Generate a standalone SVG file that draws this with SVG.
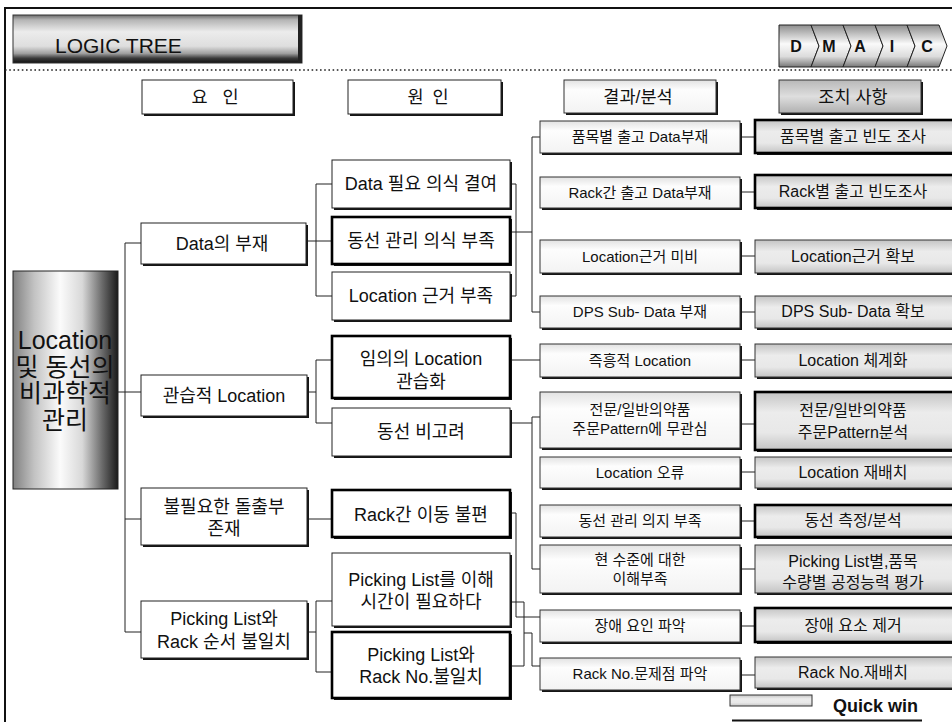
<svg xmlns="http://www.w3.org/2000/svg" width="952" height="722" viewBox="0 0 952 722">
<defs>
<linearGradient id="rootG" x1="0" y1="0" x2="1" y2="0">
<stop offset="0" stop-color="#808080"/><stop offset="0.2" stop-color="#c2c2c2"/><stop offset="0.45" stop-color="#fbfbfb"/><stop offset="0.66" stop-color="#d8d8d8"/><stop offset="0.85" stop-color="#6a6a6a"/><stop offset="1" stop-color="#1a1a1a"/>
</linearGradient>
<linearGradient id="banG" x1="0" y1="0" x2="0" y2="1">
<stop offset="0" stop-color="#6a6a6a"/><stop offset="0.1" stop-color="#b4b4b4"/><stop offset="0.35" stop-color="#ececec"/><stop offset="0.65" stop-color="#dedede"/><stop offset="0.8" stop-color="#a0a0a0"/><stop offset="0.9" stop-color="#3a3a3a"/><stop offset="1" stop-color="#111"/>
</linearGradient>
<linearGradient id="chevG" x1="0" y1="0" x2="0" y2="1">
<stop offset="0" stop-color="#8e8e8e"/><stop offset="0.45" stop-color="#fafafa"/><stop offset="0.75" stop-color="#dcdcdc"/><stop offset="1" stop-color="#777"/>
</linearGradient>
<linearGradient id="actG" x1="0" y1="0" x2="0" y2="1">
<stop offset="0" stop-color="#c4c4c4"/><stop offset="0.35" stop-color="#ececec"/><stop offset="0.7" stop-color="#e8e8e8"/><stop offset="1" stop-color="#c4c4c4"/>
</linearGradient>
<linearGradient id="resG" x1="0" y1="0" x2="0" y2="1">
<stop offset="0" stop-color="#e2e2e2"/><stop offset="0.3" stop-color="#fdfdfd"/><stop offset="1" stop-color="#f3f3f3"/>
</linearGradient>
<linearGradient id="hdG" x1="0" y1="0" x2="0" y2="1">
<stop offset="0" stop-color="#b8b8b8"/><stop offset="0.5" stop-color="#dedede"/><stop offset="1" stop-color="#b0b0b0"/>
</linearGradient>
</defs>
<style>
text{font-family:"Liberation Sans","Noto Sans CJK KR",sans-serif;fill:#111;text-anchor:middle}
.sh{fill:#151515}
.bx{fill:#fff;stroke:#222;stroke-width:1}
.rs{fill:url(#resG);stroke:#333;stroke-width:1}
.ac{fill:url(#actG);stroke:#333;stroke-width:1}
.bold{stroke:#000;stroke-width:2.6}
.t18{font-size:18px}
.t15{font-size:15px}
.t16{font-size:16px}
.hd{font-size:17.5px}
.rt{font-size:25px}
.cn{fill:none;stroke:#222;stroke-width:1}
</style>

<!-- frame -->
<path d="M5,722 V8 H952" fill="none" stroke="#111" stroke-width="2"/>
<line x1="5" y1="70" x2="952" y2="70" stroke="#222" stroke-width="1.6" stroke-dasharray="1.6,2.6"/>

<g id="banner">
<rect x="13" y="15" width="289" height="48" fill="url(#banG)" stroke="#333" stroke-width="1"/>
<rect x="298" y="15" width="4" height="48" fill="#222"/>
<text x="55" y="53" style="font-size:21px;text-anchor:start">LOGIC TREE</text>
</g>

<g id="dmaic">
<polygon points="779,25 811,25 819,46 811,67 779,67" fill="url(#chevG)" stroke="#222"/>
<polygon points="811,25 843,25 851,46 843,67 811,67 819,46" fill="url(#chevG)" stroke="#222"/>
<polygon points="843,25 875,25 883,46 875,67 843,67 851,46" fill="url(#chevG)" stroke="#222"/>
<polygon points="875,25 907,25 915,46 907,67 875,67 883,46" fill="url(#chevG)" stroke="#222"/>
<polygon points="907,25 939,25 947,46 939,67 907,67 915,46" fill="url(#chevG)" stroke="#222"/>
<text x="796" y="52" style="font-size:16px;font-weight:bold">D</text>
<text x="829" y="52" style="font-size:16px;font-weight:bold">M</text>
<text x="860" y="52" style="font-size:16px;font-weight:bold">A</text>
<text x="892" y="52" style="font-size:16px;font-weight:bold">I</text>
<text x="927" y="52" style="font-size:16px;font-weight:bold">C</text>
</g>

<!-- column headers -->
<g id="hdr-factor"><rect class="sh" x="144" y="82" width="151" height="34"/><rect class="bx" x="142" y="80" width="151" height="34"/><text class="hd" x="215" y="103" word-spacing="10">요 인</text></g>
<g id="hdr-cause"><rect class="sh" x="350" y="82" width="153" height="34"/><rect class="bx" x="348" y="80" width="153" height="34"/><text class="hd" x="428" y="103" word-spacing="4">원 인</text></g>
<g id="hdr-result"><rect class="sh" x="566" y="82" width="152" height="33"/><rect class="rs" x="564" y="80" width="152" height="33"/><text class="hd" x="638" y="103">결과/분석</text></g>
<g id="hdr-action"><rect class="sh" x="781" y="82" width="142" height="33"/><rect x="779" y="80" width="142" height="33" fill="url(#hdG)" stroke="#333"/><text class="hd" x="853" y="103">조치 사항</text></g>

<!-- connectors -->
<g id="connectors" class="cn">
<path d="M125,243 V632"/>
<path d="M125,243 H141"/>
<path d="M118,392 H141"/>
<path d="M125,519 H141"/>
<path d="M125,632 H141"/>
<path d="M306,241 H332"/>
<path d="M316,184 V296"/>
<path d="M316,184 H332 M316,296 H332"/>
<path d="M307,392 H316 M316,360 V423 M316,360 H332 M316,423 H332"/>
<path d="M307,519 H332"/>
<path d="M307,632 H316 M316,601 V672 M316,601 H332 M316,672 H332"/>
<path d="M510,184 H516 V296 H510"/>
<path d="M510,232 H532 M532,137 V312 M532,137 H540 M532,312 H540"/>
<path d="M510,360 H540"/>
<path d="M510,423 H532 M532,417 V569 M532,417 H540 M532,569 H540"/>
<path d="M510,513 H516 V617 H540"/>
<path d="M510,602 H524 V666 M510,666 H524 M524,633 H532 V666 H540"/>
<path d="M740,137 H755 M740,192 H755 M740,256 H755 M740,312 H755 M740,360 H755 M740,424 H755 M740,472 H755 M740,521 H755 M740,569 H755 M740,626 H755 M740,675 H755"/>
</g>

<!-- root -->
<g id="root">
<rect x="13" y="271" width="105" height="218" fill="url(#rootG)" stroke="#222"/>
<text class="rt" x="65" y="349">Location</text>
<text class="rt" x="65" y="376">및 동선의</text>
<text class="rt" x="65" y="402">비과학적</text>
<text class="rt" x="65" y="429">관리</text>
</g>

<!-- factors -->
<g id="f1"><rect class="sh" x="143" y="225" width="165" height="41"/><rect class="bx" x="141" y="223" width="165" height="41"/><text class="t18" x="222" y="250">Data의 부재</text></g>
<g id="f2"><rect class="sh" x="143" y="377" width="166" height="41"/><rect class="bx" x="141" y="375" width="166" height="41"/><text class="t18" x="224" y="402">관습적 Location</text></g>
<g id="f3"><rect class="sh" x="143" y="490" width="166" height="57"/><rect class="bx" x="141" y="488" width="166" height="57"/><text class="t18" x="224" y="513">불필요한 돌출부</text><text class="t18" x="224" y="535">존재</text></g>
<g id="f4"><rect class="sh" x="143" y="603" width="166" height="57"/><rect class="bx" x="141" y="601" width="166" height="57"/><text class="t18" x="224" y="625">Picking List와</text><text class="t18" x="224" y="648">Rack 순서 불일치</text></g>

<!-- causes -->
<g id="c1"><rect class="sh" x="334" y="162" width="178" height="48"/><rect class="bx" x="332" y="160" width="178" height="48"/><text class="t18" x="421" y="190">Data 필요 의식 결여</text></g>
<g id="c2"><rect class="sh" x="334" y="219" width="178" height="47"/><rect class="bx bold" x="332" y="217" width="178" height="47"/><text class="t18" x="421" y="247">동선 관리 의식 부족</text></g>
<g id="c3"><rect class="sh" x="334" y="274" width="178" height="48"/><rect class="bx" x="332" y="272" width="178" height="48"/><text class="t18" x="421" y="302">Location 근거 부족</text></g>
<g id="c4"><rect class="sh" x="334" y="338" width="178" height="62"/><rect class="bx bold" x="332" y="336" width="178" height="62"/><text class="t18" x="421" y="365">임의의 Location</text><text class="t18" x="421" y="388">관습화</text></g>
<g id="c5"><rect class="sh" x="334" y="410" width="178" height="48"/><rect class="bx" x="332" y="408" width="178" height="48"/><text class="t18" x="421" y="438">동선 비고려</text></g>
<g id="c6"><rect class="sh" x="334" y="492" width="178" height="47"/><rect class="bx bold" x="332" y="490" width="178" height="47"/><text class="t18" x="421" y="521">Rack간 이동 불편</text></g>
<g id="c7"><rect class="sh" x="334" y="555" width="178" height="73"/><rect class="bx" x="332" y="553" width="178" height="73"/><text class="t18" x="421" y="586">Picking List를 이해</text><text class="t18" x="421" y="608">시간이 필요하다</text></g>
<g id="c8"><rect class="sh" x="334" y="634" width="178" height="66"/><rect class="bx bold" x="332" y="632" width="178" height="66"/><text class="t18" x="421" y="661">Picking List와</text><text class="t18" x="421" y="683">Rack No.불일치</text></g>

<!-- results -->
<g id="r1"><rect class="sh" x="542" y="123" width="200" height="32"/><rect class="rs" x="540" y="121" width="200" height="32"/><text class="t15" x="640" y="142">품목별 출고 Data부재</text></g>
<g id="r2"><rect class="sh" x="542" y="179" width="200" height="31"/><rect class="rs" x="540" y="177" width="200" height="31"/><text class="t15" x="640" y="198">Rack간 출고 Data부재</text></g>
<g id="r3"><rect class="sh" x="542" y="242" width="200" height="33"/><rect class="rs" x="540" y="240" width="200" height="33"/><text class="t15" x="640" y="262">Location근거 미비</text></g>
<g id="r4"><rect class="sh" x="542" y="298" width="200" height="32"/><rect class="rs" x="540" y="296" width="200" height="32"/><text class="t15" x="640" y="317">DPS Sub- Data 부재</text></g>
<g id="r5"><rect class="sh" x="542" y="346" width="200" height="33"/><rect class="rs" x="540" y="344" width="200" height="33"/><text class="t15" x="640" y="366">즉흥적 Location</text></g>
<g id="r6"><rect class="sh" x="542" y="394" width="200" height="56"/><rect class="rs" x="540" y="392" width="200" height="56"/><text class="t15" x="640" y="415">전문/일반의약품</text><text class="t15" x="640" y="434">주문Pattern에 무관심</text></g>
<g id="r7"><rect class="sh" x="542" y="459" width="200" height="31"/><rect class="rs" x="540" y="457" width="200" height="31"/><text class="t15" x="640" y="478">Location 오류</text></g>
<g id="r8"><rect class="sh" x="542" y="507" width="200" height="32"/><rect class="rs" x="540" y="505" width="200" height="32"/><text class="t15" x="640" y="526">동선 관리 의지 부족</text></g>
<g id="r9"><rect class="sh" x="542" y="547" width="200" height="48"/><rect class="rs" x="540" y="545" width="200" height="48"/><text class="t15" x="640" y="565">현 수준에 대한</text><text class="t15" x="640" y="584">이해부족</text></g>
<g id="r10"><rect class="sh" x="542" y="612" width="200" height="32"/><rect class="rs" x="540" y="610" width="200" height="32"/><text class="t15" x="640" y="631">장애 요인 파악</text></g>
<g id="r11"><rect class="sh" x="542" y="660" width="200" height="32"/><rect class="rs" x="540" y="658" width="200" height="32"/><text class="t15" x="640" y="679">Rack No.문제점 파악</text></g>

<!-- actions -->
<g id="a1"><rect class="sh" x="757" y="122" width="200" height="33"/><rect class="ac bold" x="755" y="120" width="200" height="33"/><text class="t16" x="853" y="142">품목별 출고 빈도 조사</text></g>
<g id="a2"><rect class="sh" x="757" y="177" width="200" height="33"/><rect class="ac bold" x="755" y="175" width="200" height="33"/><text class="t16" x="853" y="197">Rack별 출고 빈도조사</text></g>
<g id="a3"><rect class="sh" x="757" y="242" width="200" height="33"/><rect class="ac" x="755" y="240" width="200" height="33"/><text class="t16" x="853" y="262">Location근거 확보</text></g>
<g id="a4"><rect class="sh" x="757" y="298" width="200" height="32"/><rect class="ac" x="755" y="296" width="200" height="32"/><text class="t16" x="853" y="317">DPS Sub- Data 확보</text></g>
<g id="a5"><rect class="sh" x="757" y="346" width="200" height="33"/><rect class="ac" x="755" y="344" width="200" height="33"/><text class="t16" x="853" y="366">Location 체계화</text></g>
<g id="a6"><rect class="sh" x="757" y="394" width="200" height="58"/><rect class="ac bold" x="755" y="392" width="200" height="58"/><text class="t16" x="853" y="416">전문/일반의약품</text><text class="t16" x="853" y="438">주문Pattern분석</text></g>
<g id="a7"><rect class="sh" x="757" y="459" width="200" height="31"/><rect class="ac" x="755" y="457" width="200" height="31"/><text class="t16" x="853" y="478">Location 재배치</text></g>
<g id="a8"><rect class="sh" x="757" y="507" width="200" height="32"/><rect class="ac bold" x="755" y="505" width="200" height="32"/><text class="t16" x="853" y="526">동선 측정/분석</text></g>
<g id="a9"><rect class="sh" x="757" y="547" width="200" height="48"/><rect class="ac" x="755" y="545" width="200" height="48"/><text class="t16" x="853" y="567">Picking List별,품목</text><text class="t16" x="853" y="588">수량별 공정능력 평가</text></g>
<g id="a10"><rect class="sh" x="757" y="610" width="200" height="34"/><rect class="ac bold" x="755" y="608" width="200" height="34"/><text class="t16" x="853" y="631">장애 요소 제거</text></g>
<g id="a11"><rect class="sh" x="757" y="659" width="200" height="31"/><rect class="ac" x="755" y="657" width="200" height="31"/><text class="t16" x="853" y="678">Rack No.재배치</text></g>

<!-- legend -->
<g id="legend">
<rect x="730" y="695" width="82" height="11" fill="url(#actG)" stroke="#333"/>
<text x="833" y="712" style="font-size:18px;font-weight:bold;text-anchor:start">Quick win</text>
<line x1="732" y1="720.5" x2="922" y2="720.5" stroke="#111" stroke-width="2"/>
</g>
</svg>
